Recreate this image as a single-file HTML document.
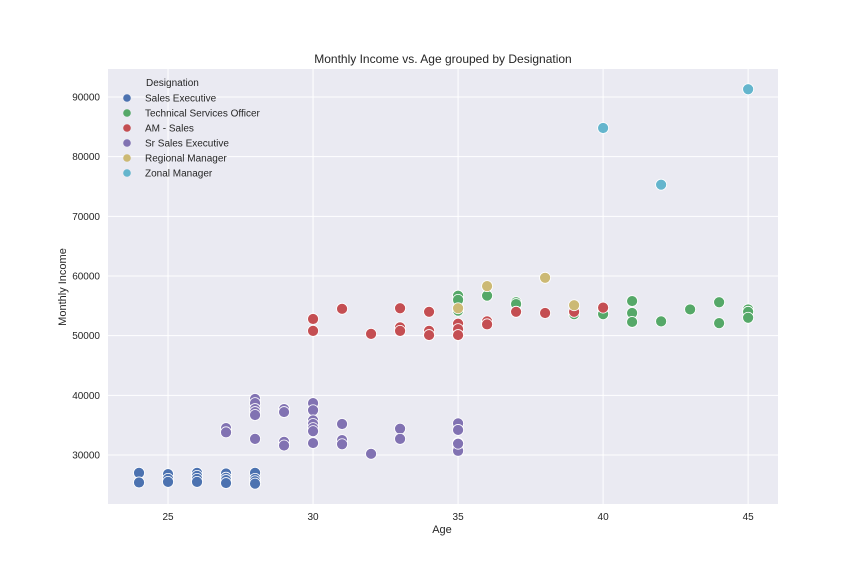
<!DOCTYPE html>
<html><head><meta charset="utf-8"><style>
body{margin:0;background:#fff;font-family:"Liberation Sans",sans-serif}
svg text{font-family:"Liberation Sans",sans-serif}
</style></head><body>
<svg id="chart" width="864" height="576">
<rect x="108" y="69" width="670" height="435" fill="#EAEAF2"/>
<g id="grid"></g><g id="pts"></g><g id="axes"></g>
<text x="443" y="63" text-anchor="middle" font-size="12" fill="#262626">Monthly Income vs. Age grouped by Designation</text>
<text x="442" y="533" text-anchor="middle" font-size="11" fill="#262626">Age</text>
<text transform="translate(66,287) rotate(-90)" text-anchor="middle" font-size="11" fill="#262626">Monthly Income</text>
<g id="legend"></g>
</svg>
<script>
const xTicks=[25,30,35,40,45];
const yTicks=[30000,40000,50000,60000,70000,80000,90000];
const seriesNames=["Sales Executive","Technical Services Officer","AM - Sales","Sr Sales Executive","Regional Manager","Zonal Manager"];
const seriesColors=["#4C72B0","#55A868","#C44E52","#8172B2","#CCB974","#64B5CD"];
const salesExecAge=[24,24,25,25,25,26,26,26,26,27,27,27,27,28,28,28,28];
const salesExecIncome=[27000,25400,26800,26000,25500,27000,26500,26000,25500,26900,26200,25800,25300,27000,26000,25600,25200];
const tsoAge=[35,35,35,36,37,37,37,39,40,40,41,41,41,42,43,44,44,45,45,45];
const tsoIncome=[56700,56000,54200,56700,55600,55300,54000,53600,54500,53600,55800,53800,52300,52400,54400,55600,52100,54400,54000,53000];
const amAge=[30,30,31,32,33,33,33,34,34,34,35,35,35,36,36,37,38,39,40];
const amIncome=[52800,50800,54500,50300,54600,51400,50800,54000,50800,50100,52000,51100,50100,52400,51900,54000,53800,54000,54700];
const srAge=[27,27,28,28,28,28,28,28,29,29,29,29,30,30,30,30,30,30,30,31,31,31,32,33,33,35,35,35,35,35,35];
const srIncome=[34500,33800,39400,38700,37700,37200,36700,32700,37700,37200,32200,31600,38700,37500,35800,35200,34500,34000,32000,35200,32500,31800,30200,34400,32700,35300,34200,32000,31300,30700,31900];
const rmAge=[35,36,38,39];
const rmIncome=[54600,58300,59700,55100];
const zmAge=[40,42,45];
const zmIncome=[84800,75300,91300];
const X0=108,X1=778,Y0=504,Y1=69;
const xmin=22.93,xmax=46.03,ymin=21790,ymax=94690;
const sx=v=>X0+(v-xmin)/(xmax-xmin)*(X1-X0);
const sy=v=>Y0-(v-ymin)/(ymax-ymin)*(Y0-Y1);
const NS="http://www.w3.org/2000/svg";
function mk(t,a,p){const e=document.createElementNS(NS,t);for(const k in a)e.setAttribute(k,a[k]);p.appendChild(e);return e;}
const grid=document.getElementById('grid'),axes=document.getElementById('axes');
xTicks.forEach(v=>{const x=sx(v);
 const l=mk('line',{x1:x,x2:x,y1:Y1,y2:Y0,stroke:'#fff','stroke-width':1},grid);
 
 
 const t=mk('text',{x:x,y:Y0+16,'text-anchor':'middle','font-size':10,fill:'#262626'},axes);t.textContent=v;
 
 });
yTicks.forEach(v=>{const y=sy(v);
 const l=mk('line',{x1:X0,x2:X1,y1:y,y2:y,stroke:'#fff','stroke-width':1},grid);
 
 
 const t=mk('text',{x:X0-8,y:y+3.5,'text-anchor':'end','font-size':10,fill:'#262626'},axes);t.textContent=v;
 
 });
const data=[[salesExecAge,salesExecIncome],[tsoAge,tsoIncome],[amAge,amIncome],[srAge,srIncome],[rmAge,rmIncome],[zmAge,zmIncome]];
const pts=document.getElementById('pts');
data.forEach((d,i)=>{d[0].forEach((a,j)=>{
 const c=mk('circle',{cx:sx(a),cy:sy(d[1][j]),r:5.5,fill:seriesColors[i],stroke:'#fff','stroke-width':0.8},pts);
 
 });});
const lg=document.getElementById('legend');
const lt=mk('text',{x:146,y:86,'font-size':10,fill:'#262626'},lg);lt.textContent='Designation';


seriesNames.forEach((n,i)=>{const y=98+i*15;
 const c=mk('circle',{cx:127,cy:y,r:3.8,fill:seriesColors[i]},lg);
 
 
 const t=mk('text',{x:145,y:y+3.5,'font-size':10,fill:'#262626'},lg);t.textContent=n;
 
 });
</script>
</body></html>
